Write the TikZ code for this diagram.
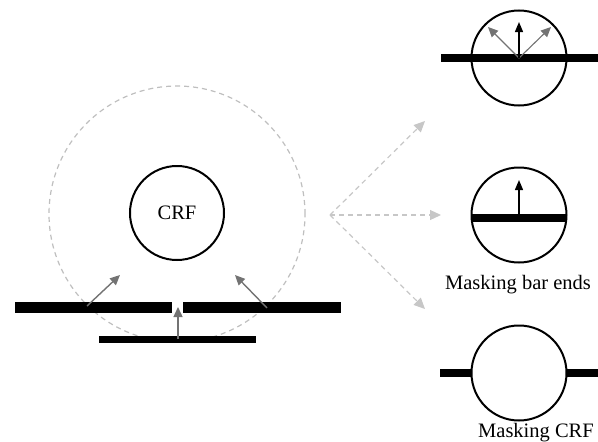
\documentclass[tikz,border=0pt]{standalone}
\usepackage{fontspec}
\setmainfont{Liberation Serif}
\usetikzlibrary{arrows.meta}
\tikzset{
  ring/.style={circle, draw=black, line width=2pt, minimum size=#1, inner sep=0pt},
  barbox/.style={rectangle, fill=black, inner sep=0pt},
  grayarrow/.style={draw=gray!90!black, line width=1.4pt, -{Triangle[length=10pt,width=9pt]}},
  blackarrow/.style={draw=black, line width=1.4pt, -{Triangle[length=10pt,width=8pt]}},
  fanarrow/.style={draw=black!22, line width=1.2pt, dash pattern=on 5pt off 4pt, -{Triangle[length=11pt,width=10pt]}},
  lbl/.style={font=\fontsize{20.5}{24}\selectfont, inner sep=0pt}
}
\begin{document}
\begin{tikzpicture}[x=1pt,y=-1pt]
\useasboundingbox (0,0) rectangle (598,442);

% surround and classical receptive field
\node[ring=256pt, draw=black!25, line width=1.2pt, dash pattern=on 5pt off 4pt] (surround) at (177,214) {};
\node[ring=94pt, lbl] (crf) at (177,213) {CRF};

% bars around the CRF
\node[barbox, minimum width=157pt, minimum height=11pt] (barL) at (93.5,307.5) {};
\node[barbox, minimum width=158pt, minimum height=11pt] (barR) at (262,307.5) {};
\node[barbox, minimum width=157pt, minimum height=7pt] (barB) at (177.5,339.5) {};

\coordinate (aL0) at (87,306);   \coordinate (aL1) at (120,275);
\coordinate (aR0) at (267,308);  \coordinate (aR1) at (235,275);
\coordinate (aB0) at (178,339);  \coordinate (aB1) at (178,307);
\draw[grayarrow] (aL0) -- (aL1);
\draw[grayarrow] (aR0) -- (aR1);
\draw[grayarrow] (aB0) -- (aB1);

% fan of dashed arrows
\coordinate (fork) at (330,215);
\coordinate (f1) at (425,121);
\coordinate (f2) at (441,215);
\coordinate (f3) at (425,309);
\draw[fanarrow] (fork) -- (f1);
\draw[fanarrow] (fork) -- (f2);
\draw[fanarrow] (fork) -- (f3);

% top: bar crossing the CRF
\node[barbox, minimum width=157pt, minimum height=8pt] (topbar) at (519.5,58) {};
\node[ring=95pt] (topcirc) at (519,58) {};
\coordinate (t0) at (519,58);
\coordinate (tU) at (519,22);
\coordinate (tL) at (488,27);
\coordinate (tR) at (551,27);
\draw[grayarrow, line width=1.1pt] (t0) -- (tL);
\draw[grayarrow, line width=1.1pt] (t0) -- (tR);
\draw[blackarrow] (t0) -- (tU);

% middle: masking bar ends
\node[barbox, minimum width=95pt, minimum height=8pt] (midbar) at (519,217.5) {};
\node[ring=95pt] (midcirc) at (519,215) {};
\coordinate (m0) at (519,214);
\coordinate (m1) at (519,180);
\draw[blackarrow] (m0) -- (m1);
\node[lbl, anchor=base] (midlbl) at (518,289) {Masking bar ends};

% bottom: masking CRF
\node[barbox, minimum width=32pt, minimum height=8pt] (botbarL) at (456,373) {};
\node[barbox, minimum width=32pt, minimum height=8pt] (botbarR) at (582,373) {};
\node[ring=95pt] (botcirc) at (519,373) {};
\node[lbl, anchor=base] (botlbl) at (536,437) {Masking CRF};
\end{tikzpicture}
\end{document}
